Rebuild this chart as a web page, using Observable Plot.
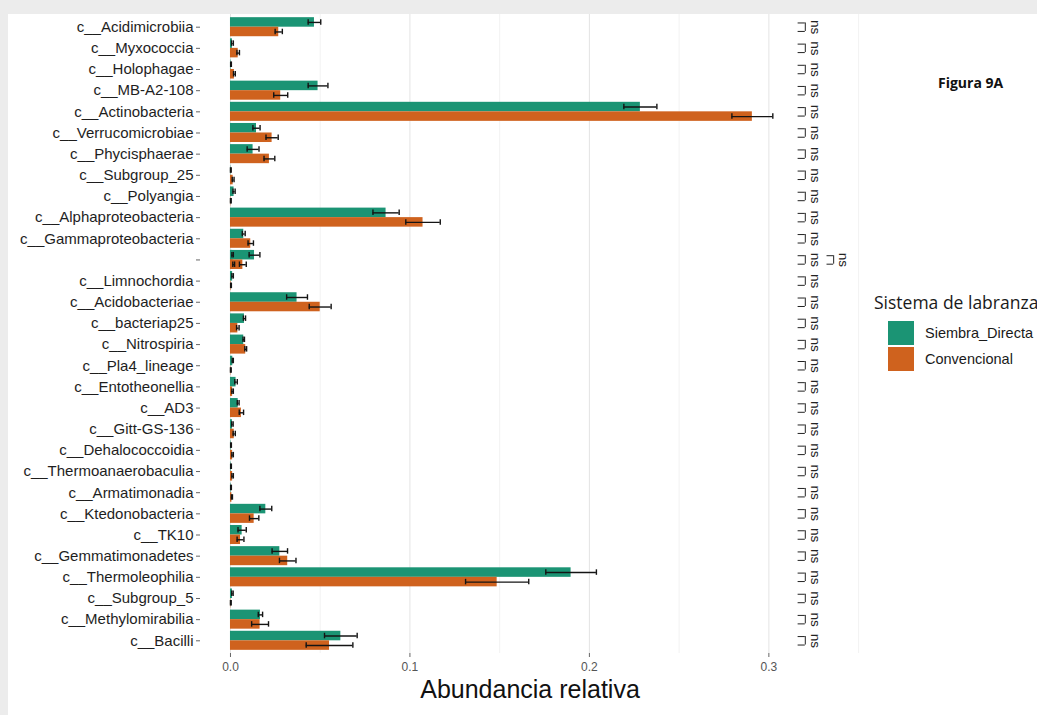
<!DOCTYPE html>
<html>
<head>
<meta charset="utf-8">
<script src="https://cdn.jsdelivr.net/npm/d3@7"></script>
<script src="https://cdn.jsdelivr.net/npm/@observablehq/plot@0.6"></script>
<style>
  html, body { margin: 0; padding: 0; width: 1037px; height: 715px; overflow: hidden; background: #ececec; }
  #sheet { position: absolute; left: 8px; top: 14px; width: 1029px; height: 701px; background: #fff; }
  #fig { position: absolute; left: 938px; top: 73px; font: bold 14px "Open Sans", "Noto Sans", sans-serif; color: #111; white-space: nowrap; }
  .lg-title { position: absolute; left: 874px; top: 290px; font: 17.5px "Open Sans", "Noto Sans", sans-serif; line-height: 24px; color: #1a1a1a; white-space: nowrap; }
  .lg-key { position: absolute; left: 888px; width: 26px; height: 24px; }
  .lg-label { position: absolute; left: 925px; font: 14.5px "Liberation Sans", Arial, sans-serif; line-height: 18px; color: #1a1a1a; white-space: nowrap; }
</style>
</head>
<body>
<div id="sheet"><div id="chart"></div></div>
<div id="fig">Figura 9A</div>
<div id="legend"></div>
<script>
// Relative abundance of bacterial classes under two tillage systems (mean ± error).
const categories = [
  "c__Acidimicrobiia", "c__Myxococcia", "c__Holophagae", "c__MB-A2-108", "c__Actinobacteria",
  "c__Verrucomicrobiae", "c__Phycisphaerae", "c__Subgroup_25", "c__Polyangia", "c__Alphaproteobacteria",
  "c__Gammaproteobacteria", "", "c__Limnochordia", "c__Acidobacteriae", "c__bacteriap25",
  "c__Nitrospiria", "c__Pla4_lineage", "c__Entotheonellia", "c__AD3", "c__Gitt-GS-136",
  "c__Dehalococcoidia", "c__Thermoanaerobaculia", "c__Armatimonadia", "c__Ktedonobacteria", "c__TK10",
  "c__Gemmatimonadetes", "c__Thermoleophilia", "c__Subgroup_5", "c__Methylomirabilia", "c__Bacilli"
];
const series = ["Siembra_Directa", "Convencional"];
const seriesColors = ["#1b9474", "#cf621e"];

const siembraDirecta = [
  0.0468, 0.0011, 0.0003, 0.0488, 0.2284,
  0.0145, 0.0126, 0.0002, 0.0020, 0.0867,
  0.0074, 0.0134, 0.0012, 0.0371, 0.0078,
  0.0074, 0.0013, 0.0031, 0.0043, 0.0011,
  0.0003, 0.0003, 0.0003, 0.0197, 0.0065,
  0.0275, 0.1898, 0.0011, 0.0167, 0.0615
];
const siembraDirectaErr = [
  0.0035, 0.0005, 0.0002, 0.0055, 0.0092,
  0.0020, 0.0033, 0.0002, 0.0006, 0.0073,
  0.0008, 0.0030, 0.0004, 0.0058, 0.0006,
  0.0004, 0.0003, 0.0007, 0.0005, 0.0004,
  0.0002, 0.0002, 0.0002, 0.0033, 0.0023,
  0.0043, 0.0141, 0.0004, 0.0012, 0.0091
];
const convencional = [
  0.0269, 0.0043, 0.0022, 0.0280, 0.2908,
  0.0232, 0.0217, 0.0015, 0.0002, 0.1073,
  0.0113, 0.0069, 0.0003, 0.0500, 0.0041,
  0.0085, 0.0002, 0.0012, 0.0061, 0.0021,
  0.0012, 0.0012, 0.0008, 0.0132, 0.0056,
  0.0319, 0.1486, 0.0002, 0.0165, 0.0552
];
const convencionalErr = [
  0.0020, 0.0007, 0.0005, 0.0039, 0.0114,
  0.0034, 0.0030, 0.0005, 0.0002, 0.0096,
  0.0015, 0.0019, 0.0002, 0.0061, 0.0007,
  0.0005, 0.0002, 0.0004, 0.0012, 0.0006,
  0.0004, 0.0004, 0.0003, 0.0026, 0.0019,
  0.0046, 0.0176, 0.0002, 0.0047, 0.0130
];
const significance = [
  "ns", "ns", "ns", "ns", "ns", "ns", "ns", "ns", "ns", "ns",
  "ns", "ns", "ns", "ns", "ns", "ns", "ns", "ns", "ns", "ns",
  "ns", "ns", "ns", "ns", "ns", "ns", "ns", "ns", "ns", "ns"
];

// A second unnamed class shares the blank label and is drawn in the same row.
const extraCategories = [""];
const extraSiembraDirecta = [0.0012];
const extraSiembraDirectaErr = [0.0004];
const extraConvencional = [0.0018];
const extraConvencionalErr = [0.0005];
const extraSignificance = ["ns"];

const xTicks = [0, 0.1, 0.2, 0.3];
const xMinorTicks = [0.05, 0.15, 0.25, 0.35];

// dodged bar layout inside each row (in row units)
const barHalf = 0.45;
function pushRow(rows, i, sd, sdErr, cv, cvErr) {
  [[sd, sdErr], [cv, cvErr]].forEach(([v, e], s) => {
    const y1 = i - barHalf + s * barHalf;
    rows.push({i, series: series[s], value: v, err: e, y1, y2: y1 + barHalf, yc: y1 + barHalf / 2});
  });
}
const bars = [];
categories.forEach((c, i) => pushRow(bars, i, siembraDirecta[i], siembraDirectaErr[i], convencional[i], convencionalErr[i]));
extraCategories.forEach((c, k) => pushRow(bars, categories.indexOf(c), extraSiembraDirecta[k], extraSiembraDirectaErr[k], extraConvencional[k], extraConvencionalErr[k]));

// significance brackets: two stacked levels of bracket + label
const level1 = {tick: 0.3163, line: 0.3203, text: 0.3259};
const level2 = {tick: 0.3324, line: 0.3361, text: 0.3413};
const brackets = [
  ...significance.map((label, i) => ({i, label, ...level1})),
  ...extraSignificance.map((label, k) => ({i: categories.indexOf(extraCategories[k]), label, ...level2}))
];
const bh = 0.2;

const chart = Plot.plot({
  width: 1029,
  height: 701,
  marginLeft: 192,
  marginRight: 178,
  marginTop: 0,
  marginBottom: 62,
  style: {fontFamily: "'Liberation Sans', Arial, sans-serif", background: "#fff", overflow: "visible"},
  x: {domain: [-0.0167, 0.3505], axis: null},
  y: {domain: [-0.6, categories.length - 1 + 0.6], reverse: true, axis: null},
  color: {domain: series, range: seriesColors},
  marks: [
    Plot.gridX(xMinorTicks, {stroke: "#ececec", strokeOpacity: 1, strokeWidth: 0.7}),
    Plot.gridX(xTicks, {stroke: "#e4e4e4", strokeOpacity: 1, strokeWidth: 1}),
    Plot.rect(bars, {x1: () => 0, x2: "value", y1: "y1", y2: "y2", fill: "series"}),
    Plot.ruleY(bars, {y: "yc", x1: d => d.value - d.err, x2: d => d.value + d.err, stroke: "#141414", strokeWidth: 1.4}),
    Plot.ruleX(bars, {x: d => d.value - d.err, y1: d => d.yc - 0.13, y2: d => d.yc + 0.13, stroke: "#141414", strokeWidth: 1.4}),
    Plot.ruleX(bars, {x: d => d.value + d.err, y1: d => d.yc - 0.13, y2: d => d.yc + 0.13, stroke: "#141414", strokeWidth: 1.4}),
    Plot.ruleX(brackets, {x: "line", y1: d => d.i - bh, y2: d => d.i + bh, stroke: "#222", strokeWidth: 1}),
    Plot.ruleY(brackets, {y: d => d.i - bh, x1: "tick", x2: "line", stroke: "#222", strokeWidth: 1}),
    Plot.ruleY(brackets, {y: d => d.i + bh, x1: "tick", x2: "line", stroke: "#222", strokeWidth: 1}),
    Plot.text(brackets, {x: "text", y: "i", text: "label", rotate: 90, fontSize: 13.5, fill: "#222"}),
    Plot.axisX(xTicks, {tickSize: 4, tickPadding: 5, fontSize: 12, tickFormat: d3.format(".1f"), stroke: "#666", fill: "#555", label: null}),
    Plot.axisY(categories.map((c, i) => i), {tickSize: 4, tickPadding: 3, fontSize: 15, tickFormat: i => categories[i], stroke: "#666", fill: "#1e1e1e", label: null}),
    Plot.text(["Abundancia relativa"], {frameAnchor: "bottom", dy: 44, fontSize: 25, fill: "#111"})
  ]
});
document.getElementById("chart").appendChild(chart);

// legend
const legend = document.getElementById("legend");
const title = document.createElement("div");
title.className = "lg-title";
title.textContent = "Sistema de labranza";
legend.appendChild(title);
series.forEach((s, k) => {
  const key = document.createElement("div");
  key.className = "lg-key";
  key.style.top = (321 + k * 26) + "px";
  key.style.background = seriesColors[k];
  legend.appendChild(key);
  const lab = document.createElement("div");
  lab.className = "lg-label";
  lab.style.top = (324 + k * 26) + "px";
  lab.textContent = s;
  legend.appendChild(lab);
});
</script>
</body>
</html>
